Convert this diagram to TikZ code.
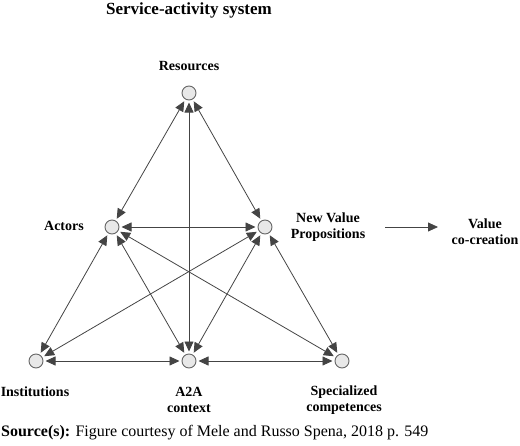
\documentclass[tikz,border=0pt]{standalone}
\usepackage{fontspec}
\setmainfont{Liberation Serif}
\usetikzlibrary{arrows.meta}
\definecolor{linec}{HTML}{444444}
\definecolor{circline}{HTML}{666666}
\definecolor{circfill}{HTML}{E8E8E8}
\tikzset{
  dot/.style={circle,draw=circline,fill=circfill,line width=0.9pt,minimum size=14pt,inner sep=0pt,outer sep=2.5pt},
  lbl/.style={font=\bfseries\fontsize{14}{16}\selectfont,align=center,inner sep=0pt},
  link/.style={draw=linec,line width=0.8pt,{Triangle[length=10pt,width=9pt]}-{Triangle[length=10pt,width=9pt]}},
  onearrow/.style={draw=linec,line width=0.8pt,-{Triangle[length=10pt,width=9pt]}}
}
\begin{document}
\begin{tikzpicture}[x=1pt,y=-1pt]
\useasboundingbox (0,0) rectangle (520,445);
\node[font=\bfseries\fontsize{17}{19}\selectfont,inner sep=0pt] (title) at (189,10) {Service-activity system};
\node[dot] (res) at (189,93) {};
\node[dot] (act) at (112,227) {};
\node[dot] (nvp) at (265,227) {};
\node[dot] (ins) at (36,361) {};
\node[dot] (a2a) at (189,361) {};
\node[dot] (spe) at (342,361) {};
\node[lbl] (lres) at (189,66) {Resources};
\node[lbl] (lact) at (64,226) {Actors};
\node[lbl] (lnvp) at (328,227) {New Value\\Propositions};
\node[lbl] (lval) at (485,232) {Value\\co-creation};
\node[lbl] (lins) at (35,392) {Institutions};
\node[lbl] (la2a) at (189,400) {A2A\\context};
\node[lbl] (lspe) at (344,400) {Specialized\\competences};
\coordinate (vs) at (385,227);
\coordinate (ve) at (438,227);
\draw[onearrow] (vs) -- (ve);
\draw[link] (res) -- (act);
\draw[link] (res) -- (nvp);
\draw[link] (res) -- (a2a);
\draw[link] (act) -- (nvp);
\draw[link] (act) -- (ins);
\draw[link] (act) -- (a2a);
\draw[link] (act) -- (spe);
\draw[link] (nvp) -- (ins);
\draw[link] (nvp) -- (a2a);
\draw[link] (nvp) -- (spe);
\draw[link] (ins) -- (a2a);
\draw[link] (a2a) -- (spe);
\node[anchor=west,inner sep=0pt,font=\fontsize{16}{18}\selectfont] (src) at (1,433) {\textbf{Source(s):} Figure courtesy of Mele and Russo Spena, 2018 p. 549};
\end{tikzpicture}
\end{document}
